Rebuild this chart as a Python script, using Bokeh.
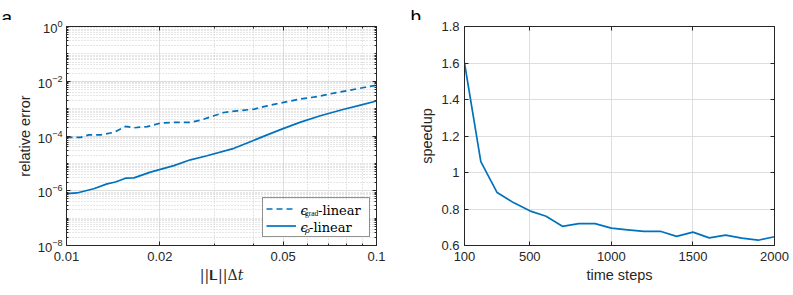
from bokeh.plotting import figure
from bokeh.layouts import row, column
from bokeh.models import (FixedTicker, LogAxis, LinearAxis, CustomJSTickFormatter,
                          Legend, LegendItem, Range1d)
from bokeh.core.properties import value
from bokeh.embed import file_html
from bokeh.resources import INLINE

# ---------------- data ----------------
grad_x = [0.0100, 0.0111, 0.0118, 0.0129, 0.0142, 0.0155, 0.0165, 0.0182, 0.0201,
          0.0222, 0.0251, 0.0271, 0.0299, 0.0322, 0.0355, 0.0402, 0.0444, 0.0502,
          0.0569, 0.0644, 0.0711, 0.0804, 0.0910, 0.1000]
grad_err = [8.9e-5, 8.9e-5, 1.1e-4, 1.1e-4, 1.35e-4, 2.24e-4, 2.0e-4, 2.2e-4, 2.95e-4,
            3.16e-4, 3.16e-4, 3.8e-4, 5.5e-4, 7.2e-4, 8.3e-4, 9.5e-4, 1.26e-3, 1.7e-3,
            2.24e-3, 2.75e-3, 3.5e-3, 4.5e-3, 5.9e-3, 7.1e-3]

rho_x = [0.0100, 0.0108, 0.01224, 0.01352, 0.01439, 0.0155, 0.0165, 0.01866, 0.0222,
         0.0251, 0.0284, 0.0347, 0.0392, 0.0444, 0.0502, 0.0569, 0.0659, 0.0785,
         0.0888, 0.1000]
rho_err = [7.8e-7, 8.3e-7, 1.18e-6, 1.78e-6, 2.08e-6, 2.88e-6, 2.95e-6, 4.8e-6, 8.3e-6,
           1.35e-5, 1.9e-5, 3.55e-5, 6.2e-5, 1.1e-4, 1.9e-4, 3.2e-4, 5.5e-4, 9.5e-4,
           1.35e-3, 1.9e-3]

steps = [100, 200, 300, 400, 500, 600, 700, 800, 900, 1000,
         1100, 1200, 1300, 1400, 1500, 1600, 1700, 1800, 1900, 2000]
speedup = [1.60, 1.06, 0.89, 0.835, 0.79, 0.76, 0.705, 0.72, 0.72, 0.695,
           0.686, 0.677, 0.678, 0.65, 0.673, 0.642, 0.657, 0.640, 0.629, 0.648]

left_xticks = [0.01, 0.02, 0.05, 0.1]
left_xminor = [0.03, 0.04, 0.06, 0.07, 0.08, 0.09]
left_yticks = [1e-8, 1e-6, 1e-4, 1e-2, 1.0]
right_xticks = [100, 500, 1000, 1500, 2000]
right_yticks = [0.6, 0.8, 1.0, 1.2, 1.4, 1.6, 1.8]

grad_label = ("\u03f5", "grad", "-linear")
rho_label = ("\u03f5", "\u03c1", "-linear")
panel_letters = ["a", "b"]

# ---------------- styling ----------------
BLUE = "#0072BD"
AX = "#262626"
FONT = "Liberation Sans"
FW, FH = 310, 219
W1, W2 = 400, 393
HEAD = 20
left_yminor = [k * 10.0 ** e for e in range(-8, 0) for k in range(1, 10)
               if not (k == 1 and e % 2 == 0)]


def style_axis(ax, minor=False):
    ax.axis_line_color = AX
    ax.major_tick_line_color = AX
    ax.minor_tick_line_color = AX if minor else None
    ax.major_tick_in = 4
    ax.major_tick_out = 0
    ax.minor_tick_in = 2
    ax.minor_tick_out = 0
    ax.major_label_text_font = FONT
    ax.major_label_text_font_size = "13px"
    ax.major_label_text_color = AX
    ax.axis_label_text_font = FONT
    ax.axis_label_text_font_size = "14.5px"
    ax.axis_label_text_font_style = "normal"
    ax.axis_label_text_color = AX


def hidden(ax):
    ax.formatter = CustomJSTickFormatter(code="return ''")
    ax.major_label_text_font_size = "1px"
    ax.major_label_standoff = 0


# ---------------- header strip with the panel letters ----------------
head = figure(width=W1 + W2, height=HEAD, x_range=Range1d(0, W1 + W2), y_range=Range1d(0, HEAD),
              title=None, x_axis_type=None, y_axis_type=None, toolbar_location=None,
              output_backend="svg", min_border=0, outline_line_color=None,
              background_fill_color="white", border_fill_color="white")
head.xgrid.visible = False
head.ygrid.visible = False
head.text(x=[1, W1 + 10], y=[3, 4], text=panel_letters, text_font=value(FONT),
          text_font_size=value("19px"), text_baseline="alphabetic", text_align="left",
          text_color="black")

# ---------------- left panel ----------------
xt = FixedTicker(ticks=left_xticks, minor_ticks=left_xminor)
yt = FixedTicker(ticks=left_yticks, minor_ticks=left_yminor)

p1 = figure(frame_width=FW, frame_height=FH, x_axis_type="log", y_axis_type="log",
            x_range=Range1d(0.01, 0.1), y_range=Range1d(1e-8, 1.0),
            toolbar_location=None, output_backend="svg",
            min_border_left=66, min_border_right=W1 - 66 - FW, min_border_top=26 - HEAD,
            min_border_bottom=42,
            background_fill_color="white", border_fill_color="white",
            outline_line_color=AX)


# frame-pixel offsets -> data position (used only to place the legend pieces)
def fx(sx):
    return 10 ** (-2 + sx / FW)


def fy(sy):
    return 10 ** (-8 + 8 * sy / FH)


# white legend background (under the legend border, above the grid)
p1.quad(left=[fx(196)], right=[fx(302)], bottom=[fy(8)], top=[fy(46)],
        fill_color="white", line_color=None)

r_grad = p1.line(grad_x, grad_err, line_color=BLUE, line_width=1.7, line_dash="6 4")
r_rho = p1.line(rho_x, rho_err, line_color=BLUE, line_width=1.7)

p1.xaxis.ticker = xt
p1.yaxis.ticker = yt
p1.xaxis.formatter = CustomJSTickFormatter(code="return tick.toString()")
p1.xaxis.axis_label = "||\U0001D40B||\u0394\U0001D461"
p1.yaxis.axis_label = "relative error"
for ax in (p1.xaxis[0], p1.yaxis[0]):
    style_axis(ax, minor=True)
p1.xaxis.major_label_standoff = 6
p1.yaxis.major_label_standoff = 4
p1.xaxis.axis_label_standoff = 3
p1.yaxis.axis_label_standoff = 2
p1.xaxis.axis_label_text_font = "DejaVu Serif"
p1.xaxis.axis_label_text_font_size = "14px"

top1 = LogAxis(ticker=xt)
right1 = LogAxis(ticker=yt)
for ax in (top1, right1):
    style_axis(ax, minor=True)
    hidden(ax)
p1.add_layout(top1, "above")
p1.add_layout(right1, "right")

for g, t in ((p1.xgrid, xt), (p1.ygrid, yt)):
    g.ticker = t
    g.grid_line_color = "#dedede"
    g.grid_line_width = 1
    g.minor_grid_line_color = "#cdcdcd"
    g.minor_grid_line_dash = "1 2"

legend = Legend(items=[LegendItem(label=" ", renderers=[r_grad]),
                       LegendItem(label=" ", renderers=[r_rho])],
                location=(196, 8), margin=0, padding=3, spacing=2,
                glyph_width=30, glyph_height=15, label_width=67, label_height=15,
                label_standoff=3, label_text_font_size="1px",
                border_line_color=AX, border_line_width=1,
                background_fill_alpha=0)
p1.add_layout(legend)


def gtext(plot, sx, sy, s, size, font="DejaVu Serif", style="normal"):
    plot.text(x=[fx(sx)], y=[fy(sy)], text=[s], text_font=value(font),
              text_font_size=value(size), text_font_style=style,
              text_baseline="middle", text_align="left", text_color="black")


gtext(p1, 234, 35.5, grad_label[0], "13px", style="italic")
gtext(p1, 238.5, 32, grad_label[1], "7.5px", font="Liberation Serif")
gtext(p1, 251.5, 35.5, grad_label[2], "13px")
gtext(p1, 234, 18.5, rho_label[0], "13px", style="italic")
gtext(p1, 238.5, 15, rho_label[1], "8px", style="italic")
gtext(p1, 242.5, 18.5, rho_label[2], "13px")

# ---------------- right panel ----------------
p2 = figure(frame_width=FW, frame_height=FH,
            x_range=Range1d(100, 2000), y_range=Range1d(0.6, 1.8),
            toolbar_location=None, output_backend="svg",
            min_border_left=64, min_border_right=W2 - 64 - FW, min_border_top=26 - HEAD,
            min_border_bottom=42,
            background_fill_color="white", border_fill_color="white",
            outline_line_color=AX)
p2.line(steps, speedup, line_color=BLUE, line_width=1.7)

xt2 = FixedTicker(ticks=right_xticks)
yt2 = FixedTicker(ticks=right_yticks)
p2.xaxis.ticker = xt2
p2.yaxis.ticker = yt2
p2.yaxis.formatter = CustomJSTickFormatter(code="return (Math.round(tick*10)/10).toString()")
p2.xaxis.axis_label = "time steps"
p2.yaxis.axis_label = "speedup"
for ax in (p2.xaxis[0], p2.yaxis[0]):
    style_axis(ax)
p2.xaxis.major_label_standoff = 6
p2.yaxis.major_label_standoff = 5
p2.xaxis.axis_label_standoff = 3
p2.yaxis.axis_label_standoff = 3

top2 = LinearAxis(ticker=xt2)
right2 = LinearAxis(ticker=yt2)
for ax in (top2, right2):
    style_axis(ax)
    hidden(ax)
p2.add_layout(top2, "above")
p2.add_layout(right2, "right")

for g, t in ((p2.xgrid, xt2), (p2.ygrid, yt2)):
    g.ticker = t
    g.grid_line_color = "#dedede"
    g.grid_line_width = 1

layout = column(head, row(p1, p2))
open("out.html", "w").write(file_html(layout, INLINE))
